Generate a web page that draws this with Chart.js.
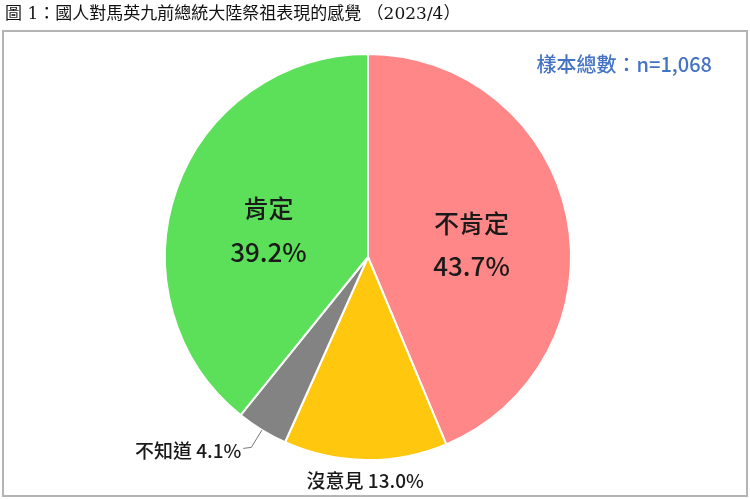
<!DOCTYPE html>
<html>
<head>
<meta charset="utf-8">
<script src="https://cdn.jsdelivr.net/npm/chart.js@4"></script>
<style>
  html, body { margin: 0; padding: 0; background: #fff; }
  #wrap { position: relative; width: 750px; height: 499px; }
</style>
</head>
<body>
<div id="wrap"><canvas id="myChart"></canvas></div>
<script>
"use strict";

const titleText = '圖 1：國人對馬英九前總統大陸祭祖表現的感覺 （2023/4）';
const sampleText = '樣本總數：n=1,068';
const labels = ['不肯定', '沒意見', '不知道', '肯定'];
const values = [43.7, 13.0, 4.1, 39.2];
const colors = ['#FF8787', '#FFC80F', '#838383', '#5CE05A'];
const insideLabel = [true, false, false, true];

const cjk = '"Noto Sans CJK TC", "Noto Sans", sans-serif';

// frame, title, sample size and slice labels
const decor = {
  id: 'decor',
  beforeDraw(chart) {
    const c = chart.ctx;
    c.save();
    c.fillStyle = '#fff';
    c.fillRect(0, 0, chart.width, chart.height);
    c.strokeStyle = '#b4b4b4';
    c.lineWidth = 2;
    c.strokeRect(3, 31, 744, 465);
    c.fillStyle = '#111';
    c.font = '17px "DejaVu Serif", "Noto Sans CJK TC", serif';
    c.textBaseline = 'middle';
    c.fillText(titleText, 5, 15);
    c.fillStyle = '#4472C4';
    c.font = '500 20px ' + cjk;
    c.textAlign = 'right';
    c.fillText(sampleText, 712, 64);
    c.restore();
  },
  afterDatasetsDraw(chart) {
    const c = chart.ctx;
    const arcs = chart.getDatasetMeta(0).data;
    c.save();
    c.textBaseline = 'middle';
    arcs.forEach((arc, i) => {
      const mid = (arc.startAngle + arc.endAngle) / 2;
      const R = arc.outerRadius;
      const cos = Math.cos(mid), sin = Math.sin(mid);
      const pct = values[i].toFixed(1) + '%';
      c.fillStyle = '#1a1a1a';
      if (insideLabel[i]) {
        const x = arc.x + cos * R * 0.52;
        const y = arc.y + sin * R * 0.52 + 8;
        c.textAlign = 'center';
        c.font = '500 25px ' + cjk;
        c.fillText(labels[i], x, y - 21);
        c.font = '500 26px ' + cjk;
        c.fillText(pct, x, y + 22);
      } else if (Math.abs(cos) < 0.2) {
        c.textAlign = 'center';
        c.font = '500 19px ' + cjk;
        c.fillText(labels[i] + ' ' + pct, arc.x + cos * R * 1.09, arc.y + sin * R * 1.1);
      } else {
        const x0 = arc.x + cos * R, y0 = arc.y + sin * R;
        const x1 = arc.x + cos * R * 1.1, y1 = arc.y + sin * R * 1.1;
        c.strokeStyle = '#777';
        c.lineWidth = 1;
        c.beginPath();
        c.moveTo(x0, y0);
        c.lineTo(x1, y1);
        c.lineTo(x1 - 8, y1 + 1);
        c.stroke();
        c.textAlign = 'right';
        c.font = '500 19px ' + cjk;
        c.fillText(labels[i] + ' ' + pct, x1 - 10, y1 + 3);
      }
    });
    c.restore();
  }
};

const ctx = document.getElementById('myChart').getContext('2d');
const myChart = new Chart(ctx, {
  type: 'pie',
  data: {
    labels: labels,
    datasets: [{
      data: values,
      backgroundColor: colors,
      borderColor: '#fff',
      borderWidth: 2
    }]
  },
  options: {
    responsive: true,
    maintainAspectRatio: false,
    animation: false,
    layout: { padding: { top: 53, bottom: 38, left: 164, right: 178 } },
    plugins: {
      legend: { display: false },
      tooltip: { enabled: false }
    }
  },
  plugins: [decor]
});
</script>
</body>
</html>
